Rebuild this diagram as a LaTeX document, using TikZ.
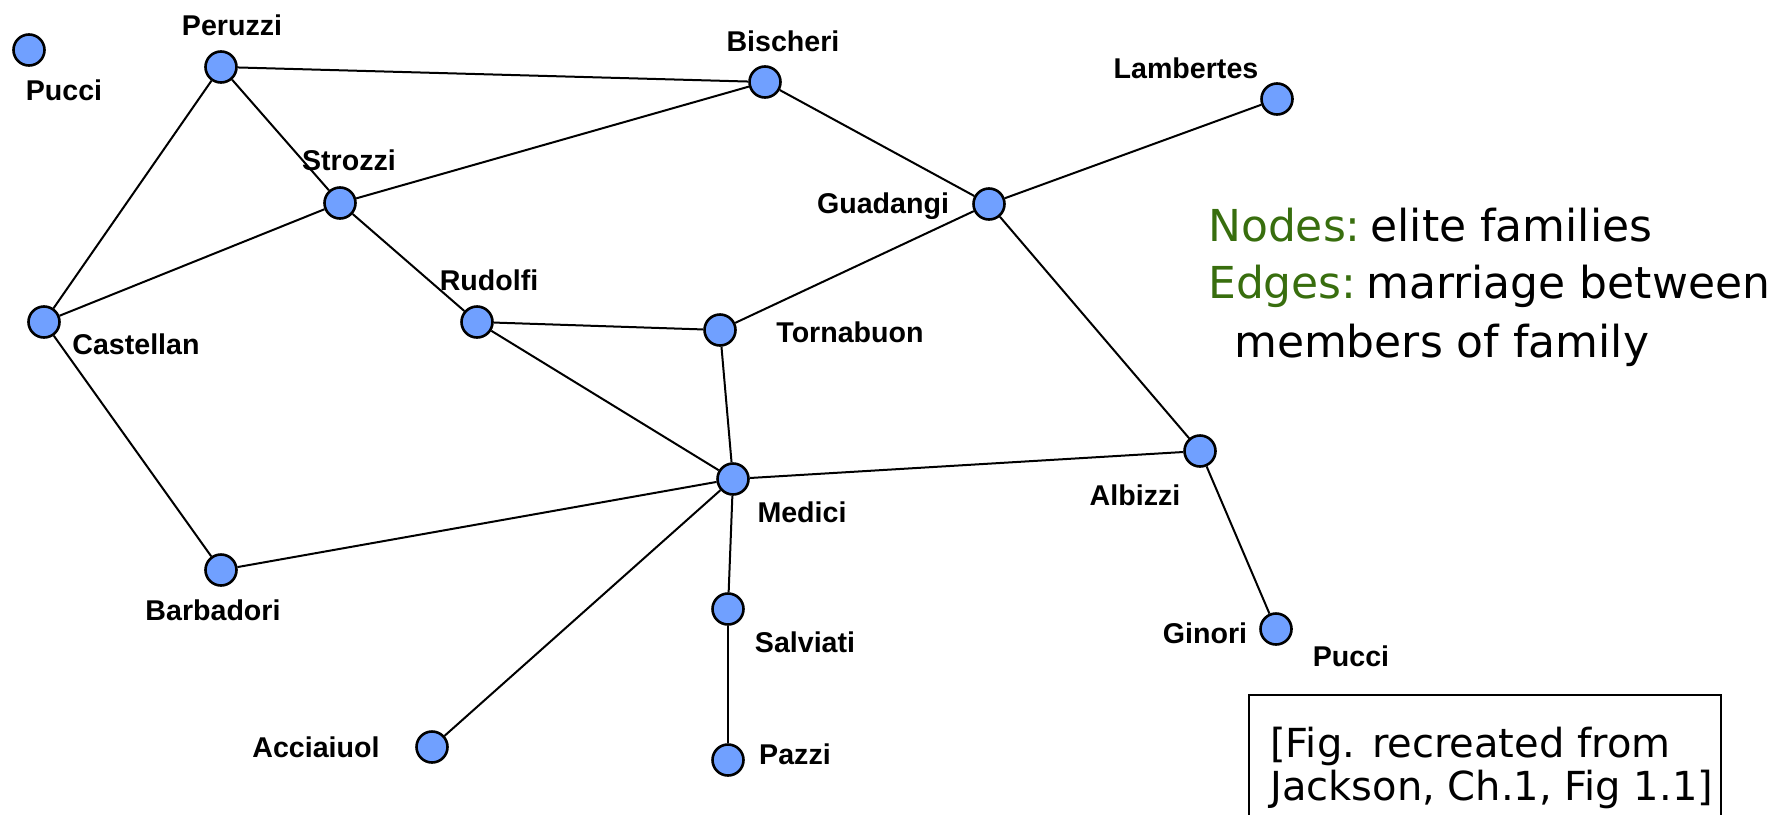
\documentclass[tikz,border=0pt]{standalone}
\usepackage{fontspec}
\setmainfont{Liberation Sans}
\newfontfamily\comic{DejaVu Sans}
\definecolor{nodeblue}{RGB}{112,160,255}
\definecolor{legendgreen}{RGB}{56,110,14}
\begin{document}
\begin{tikzpicture}[x=1pt,y=-1pt,
  fam/.style={circle,draw=black,line width=2.6pt,fill=nodeblue,minimum size=31pt,inner sep=0pt},
  lab/.style={font=\fontsize{28.6}{30}\selectfont\bfseries,inner sep=0pt},
  edge/.style={line width=2pt,black},
  legend/.style={font=\comic\fontsize{44}{48}\selectfont,anchor=base west,inner sep=0pt},
  source/.style={font=\comic\fontsize{40}{44}\selectfont,anchor=base west,inner sep=0pt}]
\clip (0,0) rectangle (1784,814);
% nodes
\node[fam] (pucciA) at (29,50) {};
\node[fam] (peruzzi) at (221,67) {};
\node[fam] (bischeri) at (765,82) {};
\node[fam] (lambertes) at (1277,99) {};
\node[fam] (strozzi) at (340,203) {};
\node[fam] (guadangi) at (989,204) {};
\node[fam] (castellan) at (44,322) {};
\node[fam] (rudolfi) at (477,322) {};
\node[fam] (tornabuon) at (720,330) {};
\node[fam] (medici) at (733,479) {};
\node[fam] (albizzi) at (1200,451) {};
\node[fam] (barbadori) at (221,570) {};
\node[fam] (salviati) at (728,609) {};
\node[fam] (ginori) at (1276,629) {};
\node[fam] (acciaiuol) at (432,747) {};
\node[fam] (pazzi) at (728,760) {};
% edges
\draw[edge] (peruzzi) -- (bischeri);
\draw[edge] (peruzzi) -- (strozzi);
\draw[edge] (peruzzi) -- (castellan);
\draw[edge] (bischeri) -- (strozzi);
\draw[edge] (bischeri) -- (guadangi);
\draw[edge] (lambertes) -- (guadangi);
\draw[edge] (strozzi) -- (castellan);
\draw[edge] (strozzi) -- (rudolfi);
\draw[edge] (guadangi) -- (tornabuon);
\draw[edge] (guadangi) -- (albizzi);
\draw[edge] (castellan) -- (barbadori);
\draw[edge] (rudolfi) -- (tornabuon);
\draw[edge] (rudolfi) -- (medici);
\draw[edge] (tornabuon) -- (medici);
\draw[edge] (medici) -- (albizzi);
\draw[edge] (medici) -- (barbadori);
\draw[edge] (medici) -- (acciaiuol);
\draw[edge] (medici) -- (salviati);
\draw[edge] (salviati) -- (pazzi);
\draw[edge] (albizzi) -- (ginori);
% labels
\node[lab] (lpucciA) at (64,90) {Pucci};
\node[lab] (lperuzzi) at (232,25) {Peruzzi};
\node[lab] (lbischeri) at (783,41) {Bischeri};
\node[lab] (llambertes) at (1186,68) {Lambertes};
\node[lab] (lstrozzi) at (349,160) {Strozzi};
\node[lab] (lguadangi) at (883,206) {Guadangi};
\node[lab] (lrudolfi) at (489,280) {Rudolfi};
\node[lab] (lcastellan) at (136,344) {Castellan};
\node[lab] (ltornabuon) at (850,332) {Tornabuon};
\node[lab] (lmedici) at (802,512) {Medici};
\node[lab] (lalbizzi) at (1135,495) {Albizzi};
\node[lab] (lbarbadori) at (213,610) {Barbadori};
\node[lab] (lsalviati) at (805,642) {Salviati};
\node[lab] (lginori) at (1205,633) {Ginori};
\node[lab] (lpucciB) at (1351,656) {Pucci};
\node[lab] (lacciaiuol) at (316,747) {Acciaiuol};
\node[lab] (lpazzi) at (795,754) {Pazzi};
% legend
\node[legend] (leg1) at (1208,241) {\textcolor{legendgreen}{Nodes:}\hspace{0.22em}elite families};
\node[legend] (leg2) at (1208,298) {\textcolor{legendgreen}{Edges:}\hspace{0.22em}marriage between};
\node[legend] (leg3) at (1234,357) {members of family};
% source box
\draw[line width=2pt] (1249,695) rectangle (1721,840);
\node[source] (src1) at (1270,757) {[Fig. recreated from};
\node[source] (src2) at (1270,800) {Jackson, Ch.1, Fig 1.1]};
\end{tikzpicture}
\end{document}
